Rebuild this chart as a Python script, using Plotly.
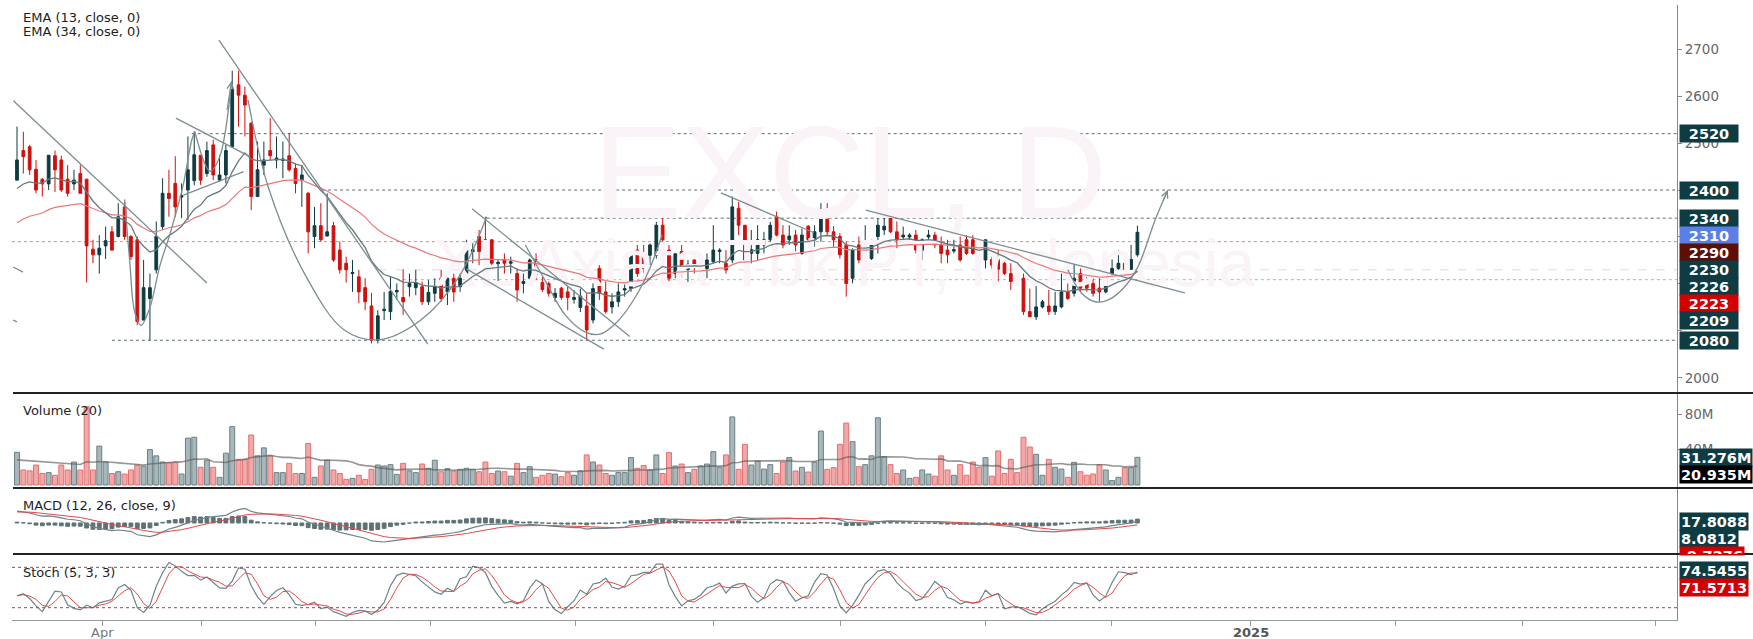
import numpy as np
import pandas as pd
import plotly.graph_objects as go

W, H = 1753, 639

# ---------------- data ----------------
opens = [2421,2484,2492,2444,2423,2413,2473,2464,2423,2413,
         2435,2423,2274,2262,2281,2311,2301,2364,2301,2294,
         2123,2169,2230,2322,2393,2414,2385,2400,2420,2474,
         2435,2496,2421,2432,2492,2624,2602,2542,2386,2453,
         2484,2464,2463,2473,2446,2421,2393,2301,2324,2302,
         2324,2272,2244,2222,2215,2192,2153,2080,2143,2141,
         2183,2171,2194,2192,2194,2162,2180,2212,2183,2212,
         2194,2222,2269,2301,2294,2294,2243,2252,2244,2222,
         2201,2212,2252,2203,2201,2171,2191,2183,2167,2150,
         2153,2123,2233,2183,2151,2162,2187,2190,2272,2261,
         2261,2261,2325,2272,2222,2269,2231,2251,2231,2233,
         2247,2269,2244,2251,2361,2325,2265,2265,2283,2294,
         2343,2304,2294,2304,2265,2323,2294,2311,2354,2311,
         2301,2283,2212,2283,2270,2254,2301,2315,2343,2311,
         2300,2300,2304,2272,2300,2304,2283,2272,2270,2283,
         2294,2294,2272,2251,2252,2252,2244,2222,2244,2212,
         2141,2130,2151,2153,2141,2151,2183,2180,2222,2201,
         2201,2191,2183,2222,2233,2244,2231,2262]
highs = [2535,2524,2496,2464,2425,2474,2484,2473,2453,2443,
         2453,2423,2294,2304,2322,2323,2372,2375,2304,2301,
         2251,2222,2333,2425,2443,2472,2414,2514,2525,2474,
         2503,2507,2474,2496,2654,2654,2620,2545,2503,2503,
         2553,2514,2503,2521,2457,2453,2396,2364,2372,2393,
         2332,2290,2258,2251,2230,2212,2181,2144,2183,2215,
         2201,2231,2222,2230,2205,2208,2212,2230,2215,2222,
         2222,2294,2294,2315,2343,2294,2251,2265,2258,2233,
         2222,2254,2265,2215,2205,2191,2194,2200,2187,2190,
         2180,2201,2240,2205,2180,2201,2201,2265,2283,2283,
         2286,2332,2343,2283,2265,2283,2251,2252,2258,2265,
         2325,2276,2272,2386,2375,2325,2315,2325,2311,2332,
         2354,2325,2325,2315,2318,2325,2325,2372,2372,2323,
         2308,2290,2276,2301,2325,2294,2354,2347,2347,2333,
         2322,2308,2315,2297,2315,2311,2301,2294,2294,2301,
         2304,2304,2279,2294,2258,2272,2247,2244,2244,2222,
         2190,2201,2166,2187,2183,2222,2201,2242,2233,2215,
         2212,2212,2252,2252,2272,2252,2283,2324]
lows = [2421,2435,2432,2393,2386,2400,2396,2396,2386,2400,
        2393,2203,2244,2222,2253,2271,2299,2294,2251,2112,
        2123,2080,2222,2315,2343,2343,2340,2336,2410,2411,
        2428,2421,2418,2414,2492,2535,2514,2357,2386,2432,
        2464,2446,2425,2439,2393,2364,2265,2276,2290,2301,
        2247,2222,2203,2183,2159,2144,2073,2073,2123,2123,
        2166,2134,2173,2176,2155,2155,2162,2162,2155,2162,
        2183,2215,2244,2240,2233,2240,2205,2222,2222,2162,
        2180,2205,2208,2183,2173,2162,2166,2144,2158,2140,
        2080,2116,2166,2137,2137,2151,2173,2183,2215,2222,
        2240,2254,2290,2205,2212,2212,2203,2222,2222,2212,
        2244,2244,2222,2244,2304,2244,2244,2251,2265,2290,
        2301,2276,2283,2269,2262,2290,2279,2290,2304,2279,
        2254,2173,2201,2244,2265,2251,2265,2304,2308,2276,
        2294,2283,2265,2251,2286,2276,2244,2244,2265,2247,
        2262,2262,2240,2233,2233,2205,2219,2187,2208,2134,
        2130,2123,2148,2134,2134,2148,2166,2173,2183,2183,
        2173,2162,2180,2219,2230,2230,2230,2258]
closes = [2464,2471,2443,2400,2413,2474,2443,2400,2393,2421,
          2393,2281,2262,2276,2292,2272,2343,2301,2258,2120,
          2192,2192,2301,2393,2382,2364,2388,2443,2475,2421,
          2484,2432,2432,2484,2614,2602,2581,2386,2443,2464,
          2473,2468,2466,2443,2414,2432,2311,2324,2294,2311,
          2251,2230,2230,2224,2183,2162,2080,2132,2146,2184,
          2186,2162,2201,2203,2162,2182,2194,2169,2212,2183,
          2212,2272,2273,2269,2283,2244,2246,2244,2247,2187,
          2205,2251,2219,2188,2180,2180,2171,2171,2171,2174,
          2102,2190,2180,2141,2162,2183,2190,2261,2222,2233,
          2283,2325,2294,2212,2264,2233,2242,2242,2235,2251,
          2272,2272,2230,2364,2325,2251,2273,2294,2294,2325,
          2304,2283,2302,2283,2304,2294,2311,2354,2311,2294,
          2262,2201,2272,2251,2272,2290,2325,2323,2311,2294,
          2304,2304,2272,2294,2304,2283,2265,2262,2273,2251,
          2265,2265,2251,2294,2240,2231,2222,2205,2212,2141,
          2130,2151,2162,2141,2153,2183,2169,2212,2191,2191,
          2180,2183,2222,2233,2244,2231,2252,2310]
volumes_m = [37,17,16,22.6,13,14,11,22.6,17,26,
             17,88.6,17,44,26,13,15,12.4,17,22.6,
             21.5,40,33,26,25,26,12.4,53,54,20,
             28,20,8.7,36,66,29,29,56.5,33,42,
             33,14,14,24.5,13,13,47,8.7,21.5,28,
             17,13,6.4,7.5,11,6.4,17.7,22.6,21.5,23,
             12,24.5,16,14,23.7,18.9,28,15,18.5,15.8,
             17.7,18.9,17.7,15,26,13,15.8,15,10,24.5,
             14,20.7,8.7,11,13,12.4,9.4,14,11,16,
             34,26,22.6,13,11,14,14,31,18.9,22,
             17,34,13,36.6,21.5,23.7,14,17.7,21.5,23.7,
             37.7,20,34,77,17.7,46,22.6,27,18,23,
             13,26,31,15.8,20,14.7,26,61,17.7,19.6,
             46,70,49,20.7,23,33,76,32,23,13,
             17,7.5,8.7,17,12.4,10,33,17,11,23,
             11,26,20,31,10,38.5,13,29,14,54,
             43,34.7,11,29,20,18,8.7,25.6,15,11,
             12.4,23,17,5,8.7,19.6,19.6,31.276]

ema13_start, ema34_start = 2393, 2322
ema12_start, ema26_start, signal_start = 2455, 2405, 43
volume_ma_start_m = 28

# x axis: month ticks (bar-index positions) and labels
tick_index = [13.5, 29.1, 47.2, 65.3, 88.3, 110.1, 130.1, 153.0, 172.9, 194.9, 217.8, 237.9, 258.9]
tick_labels = ["Apr", "", "", "", "", "", "", "", "", "2025", "", "", ""]
price_ticks = [2000, 2100, 2200, 2300, 2400, 2500, 2600, 2700]
price_tick_labels = ["2000", "", "", "", "", "2500", "2600", "2700"]
volume_ticks_m = [40, 80]

# horizontal levels: price, first bar index
level_prices = [2520, 2400, 2340, 2290, 2230, 2209, 2080]
level_starts = [27.6, 48.2, 74.2, -0.8, 57.0, 60.0, 15.0]

# right-scale value labels
price_label_values = [2520, 2400, 2340, 2310, 2290, 2230, 2226, 2223, 2209, 2080]
price_label_kinds = ["lvl", "lvl", "lvl", "last", "prev", "lvl", "lvl", "red", "lvl", "lvl"]
volume_label_values_m = [31.276, 20.935]
macd_label_values = [17.8088, 8.0812, -9.7276]
stoch_label_values = [74.5455, 71.5713]

# hand drawings (bar index, price)
trend_lines = [((-0.57, 2590), (30.0, 2202)), ((25.1, 2553), (36.8, 2471)),
               ((26.3, 2389), (35.8, 2439)), ((31.9, 2719), (64.9, 2072)),
               ((71.9, 2360), (96.8, 2088)), ((71.0, 2232), (92.7, 2061)),
               ((111.2, 2394), (125.9, 2309)), ((134.1, 2357), (184.5, 2181)),
               ((-0.6, 2236), (0.95, 2225)), ((-0.6, 2123), (0.0, 2119))]
curves = [
    [(17.0, 2380), (17.8, 2250), (18.6, 2140), (19.6, 2112), (21.0, 2150), (22.6, 2240),
     (24.2, 2308), (26.2, 2407), (27.6, 2506), (28.1, 2524)],
    [(28.1, 2524), (30.5, 2440), (32.0, 2470), (33.9, 2632)],
    [(36.5, 2592), (39.7, 2406), (45.7, 2215), (51.7, 2102), (57.2, 2081), (63.8, 2123),
     (69.8, 2215), (74.2, 2343)],
    [(80.3, 2283), (83.4, 2208), (86.6, 2134), (89.7, 2098), (92.1, 2093), (94.8, 2119),
     (97.6, 2170), (100.0, 2234), (101.9, 2304)],
    [(166.0, 2230), (168.2, 2180), (170.3, 2162), (172.4, 2166), (175.0, 2194),
     (177.1, 2237), (179.8, 2336), (181.8, 2400)],
]
arrow_curves = [1, 4]

# ---------------- styles ----------------
FONT = "DejaVu Sans, Liberation Sans, Arial, sans-serif"
WFONT = "Liberation Sans, Arial, sans-serif"
UP, DN = "#0f3b42", "#d0100e"
TEAL, BLUE, MAROON, RED = "#0f3b42", "#5a7fe6", "#5b0f06", "#d30000"
DRAW = "#7d8d90"
label_colors = {"lvl": TEAL, "last": BLUE, "prev": MAROON, "red": RED}

def py(ypx):
    return 1 - ypx / H

# pane pixel extents (top, bottom)
P_PRICE = (5, 392)
P_VOL = (394, 487)
P_MACD = (489, 553)
P_STOCH = (555, 620)
X_LEFT, X_RIGHT = 12, 1677
X0, X1 = (X_LEFT - 17) / 6.33, (X_RIGHT - 17) / 6.33

price_range = [1969.8, 2794.0]
vol_range = [-2.26, 102.9]
stoch_range = [1.73, 98.3]

# ---------------- indicators ----------------
idx = np.arange(len(closes))
o = np.array(opens, float); h = np.array(highs, float)
l = np.array(lows, float); c = np.array(closes, float)
v = np.array(volumes_m, float)

def ema(values, n, start):
    a = 2 / (n + 1)
    out = []
    prev = start
    for x in values:
        prev = prev + a * (x - prev)
        out.append(prev)
    return np.array(out)

ema13 = ema(c, 13, ema13_start)
ema34 = ema(c, 34, ema34_start)
macd = ema(c, 12, ema12_start) - ema(c, 26, ema26_start)
signal = ema(macd, 9, signal_start)
hist = macd - signal

vs = pd.Series(np.concatenate([np.full(19, volume_ma_start_m), v]))
vol_ma = vs.rolling(20).mean().to_numpy()[19:]

hh = pd.Series(h).rolling(5, min_periods=1).max()
ll = pd.Series(l).rolling(5, min_periods=1).min()
fastk = 100 * (pd.Series(c) - ll) / (hh - ll)
stoch_k = fastk.rolling(3, min_periods=1).mean()
stoch_d = stoch_k.rolling(3, min_periods=1).mean()

m_lo = min(macd.min(), signal.min(), hist.min())
m_hi = max(macd.max(), signal.max(), hist.max())
span = max(-m_lo / 0.297, m_hi / 0.45)
macd_range = [-0.469 * span, 0.531 * span]

up = c >= o

# ---------------- figure ----------------
fig = go.Figure()

# watermark
fig.add_trace(go.Scatter(x=[131.6], y=[2410], mode="text", text=["EXCL, D"],
                         textfont=dict(family=WFONT, size=132, color="#faf3f7"),
                         xaxis="x", yaxis="y", hoverinfo="skip", showlegend=False))
fig.add_trace(go.Scatter(x=[130.7], y=[2231], mode="text", text=["XL Axiata Tbk PT, Indonesia"],
                         textfont=dict(family=WFONT, size=66, color="#faf3f7"),
                         xaxis="x", yaxis="y", hoverinfo="skip", showlegend=False))

fig.add_trace(go.Scatter(x=idx, y=ema34, mode="lines", line=dict(color="#e8797b", width=1.2),
                         xaxis="x", yaxis="y", hoverinfo="skip", showlegend=False))
fig.add_trace(go.Scatter(x=idx, y=ema13, mode="lines", line=dict(color="#66797d", width=1.3),
                         xaxis="x", yaxis="y", hoverinfo="skip", showlegend=False))

fig.add_trace(go.Candlestick(x=idx, open=o, high=h, low=l, close=c,
                             increasing=dict(line=dict(color=UP, width=1), fillcolor=UP),
                             decreasing=dict(line=dict(color=DN, width=1), fillcolor=DN),
                             whiskerwidth=0, xaxis="x", yaxis="y", showlegend=False,
                             hoverinfo="skip"))

for k, pts in enumerate(curves):
    xs = [p[0] for p in pts]; ys = [p[1] for p in pts]
    fig.add_trace(go.Scatter(x=xs, y=ys, mode="lines",
                             line=dict(color=DRAW, width=1.3, shape="spline", smoothing=1.0),
                             xaxis="x", yaxis="y", hoverinfo="skip", showlegend=False))

# volume
fig.add_trace(go.Bar(x=idx, y=v, width=0.78,
                     marker=dict(color=["rgba(110,135,140,0.6)" if u else "rgba(232,110,110,0.6)" for u in up],
                                 line=dict(color=["#6b8085" if u else "#e07070" for u in up], width=1)),
                     xaxis="x2", yaxis="y2", hoverinfo="skip", showlegend=False))
fig.add_trace(go.Scatter(x=idx, y=vol_ma, mode="lines", line=dict(color="rgba(95,95,95,0.65)", width=1.6),
                         xaxis="x2", yaxis="y2", hoverinfo="skip", showlegend=False))

# MACD
fig.add_trace(go.Bar(x=idx, y=hist, width=0.6,
                     marker=dict(color="#5e7276", line=dict(color="#5e7276", width=1)),
                     xaxis="x3", yaxis="y3", hoverinfo="skip", showlegend=False))
fig.add_trace(go.Scatter(x=idx, y=macd, mode="lines", line=dict(color="#6f8488", width=1.2),
                         xaxis="x3", yaxis="y3", hoverinfo="skip", showlegend=False))
fig.add_trace(go.Scatter(x=idx, y=signal, mode="lines", line=dict(color="#e24a4a", width=1),
                         xaxis="x3", yaxis="y3", hoverinfo="skip", showlegend=False))

# Stoch
fig.add_trace(go.Scatter(x=idx, y=stoch_k, mode="lines", line=dict(color="#6f8488", width=1.2),
                         xaxis="x4", yaxis="y4", hoverinfo="skip", showlegend=False))
fig.add_trace(go.Scatter(x=idx, y=stoch_d, mode="lines", line=dict(color="#e24a4a", width=1),
                         xaxis="x4", yaxis="y4", hoverinfo="skip", showlegend=False))

shapes = []
for p, s in zip(level_prices, level_starts):
    if p == 2290:
        col, dash = "#d98a8a", "dot"
    elif p == 2230:
        col, dash = "#dcdcdc", "dash"
    elif p == 2209:
        col, dash = "#a9b5b8", "dot"
    else:
        col, dash = "#5b6f73", "dot"
    shapes.append(dict(type="line", xref="x", yref="y", x0=s, x1=X1, y0=p, y1=p,
                       line=dict(color=col, width=1, dash=dash), layer="below"))
for (a, b) in trend_lines:
    shapes.append(dict(type="line", xref="x", yref="y", x0=a[0], y0=a[1], x1=b[0], y1=b[1],
                       line=dict(color=DRAW, width=1.3)))
for lvl in (80, 20):
    shapes.append(dict(type="line", xref="x4", yref="y4", x0=X0, x1=X1, y0=lvl, y1=lvl,
                       line=dict(color="#8e4a60", width=1, dash="dot")))
for ysep in (393, 488, 554):
    shapes.append(dict(type="line", xref="paper", yref="paper", x0=13 / W, x1=1,
                       y0=py(ysep), y1=py(ysep), line=dict(color="#222", width=2.2)))

annotations = []
def txt(x, y, s):
    annotations.append(dict(x=x / W, y=py(y), xref="paper", yref="paper", text=s, showarrow=False,
                            xanchor="left", yanchor="middle", borderpad=0,
                            font=dict(family=FONT, size=13, color="#1e1e1e")))
txt(22, 18, "EMA (13, close, 0)")
txt(22, 31, "EMA (34, close, 0)")
txt(22, 410, "Volume (20)")
txt(22, 505, "MACD (12, 26, close, 9)")
txt(22, 572, "Stoch (5, 3, 3)")

# x-axis month labels
for ti, tl in zip(tick_index, tick_labels):
    if tl:
        bold = tl.isdigit()
        annotations.append(dict(x=ti, y=py(632), xref="x4", yref="paper",
                                text=("<b>%s</b>" % tl) if bold else tl, showarrow=False,
                                xanchor="center", yanchor="middle", borderpad=0,
                                font=dict(family=FONT, size=13, color="#555" if bold else "#777")))

for k in arrow_curves:
    pts = curves[k]
    annotations.append(dict(x=pts[-1][0], y=pts[-1][1], ax=pts[-2][0] + 0.6 * (pts[-1][0] - pts[-2][0]),
                            ay=pts[-2][1] + 0.6 * (pts[-1][1] - pts[-2][1]),
                            xref="x", yref="y", axref="x", ayref="y", text="", showarrow=True,
                            arrowhead=5, arrowsize=1.1, arrowwidth=1.2, arrowcolor=DRAW))

def to_px(val, rng, pane):
    lo, hi = rng
    return pane[0] + (hi - val) / (hi - lo) * (pane[1] - pane[0])

def box(ypx, text, color, height=15, valign="middle", width=None):
    d = dict(x=1679 / W, y=py(ypx), xref="paper", yref="paper", text="<b>%s</b>" % text,
             showarrow=False, xanchor="left", yanchor="middle", bgcolor=color,
             font=dict(family=FONT, size=14.5, color="white"), borderpad=1,
             height=height, valign=valign)
    if width:
        d["width"] = width
    annotations.append(d)

prev = -100
for val, kind in sorted(zip(price_label_values, price_label_kinds), key=lambda t: -t[0]):
    y = max(to_px(val, price_range, P_PRICE), prev + 17)
    prev = y
    box(y, str(val), label_colors[kind], width=56)

prev = -100
for val, col in zip(volume_label_values_m, [TEAL, "#000000"]):
    y = max(to_px(val, vol_range, P_VOL), prev + 17)
    prev = y
    box(y, "%.3fM" % val, col)

macd_px = [521, 538]
box(macd_px[0], "%.4f" % macd_label_values[0], TEAL)
box(macd_px[1], "%.4f" % macd_label_values[1], TEAL)
box(550.5, "%.4f" % macd_label_values[2], RED, height=6, valign="top")

prev = -100
for val, col in zip(stoch_label_values, [TEAL, RED]):
    y = max(to_px(val, stoch_range, P_STOCH), prev + 17)
    prev = y
    box(y, "%.4f" % val, col)

xdom = [X_LEFT / W, X_RIGHT / W]
def dom(p):
    return [py(p[1]), py(p[0])]

xbase = dict(domain=xdom, range=[X0, X1], showgrid=False, zeroline=False, showticklabels=False,
             fixedrange=True)
ybase = dict(side="right", showgrid=False, zeroline=False, showline=True, linecolor="#888",
             linewidth=1, ticks="outside", ticklen=4, tickcolor="#888",
             tickfont=dict(family=FONT, size=13.5, color="#666"), fixedrange=True)

fig.update_layout(
    width=W, height=H, margin=dict(l=0, r=0, t=0, b=0),
    paper_bgcolor="white", plot_bgcolor="white", showlegend=False, boxgap=0.38,
    font=dict(family=FONT),
    xaxis=dict(**xbase, anchor="y", rangeslider=dict(visible=False)),
    xaxis2=dict(**xbase, anchor="y2", matches="x"),
    xaxis3=dict(**xbase, anchor="y3", matches="x"),
    xaxis4=dict(domain=xdom, range=[X0, X1], anchor="y4", matches="x", showgrid=False, zeroline=False,
                showline=True, linecolor="#999", ticks="outside", ticklen=5, tickcolor="#999",
                tickvals=tick_index, ticktext=[""] * len(tick_index), showticklabels=True),
    yaxis=dict(**ybase, domain=dom(P_PRICE), range=price_range, anchor="x",
               tickvals=price_ticks, ticktext=price_tick_labels),
    yaxis2=dict(**ybase, domain=dom(P_VOL), range=vol_range, anchor="x2",
                tickvals=volume_ticks_m, ticktext=["%dM" % t for t in volume_ticks_m]),
    yaxis3=dict(**ybase, domain=dom(P_MACD), range=macd_range, anchor="x3", showticklabels=False,
                tickvals=[]),
    yaxis4=dict(**ybase, domain=dom(P_STOCH), range=stoch_range, anchor="x4", showticklabels=False,
                tickvals=[]),
    shapes=shapes, annotations=annotations,
)

fig.write_html("out.html", config={"displayModeBar": False},
               post_script="document.body.style.margin='0px';document.body.style.overflow='hidden';")
